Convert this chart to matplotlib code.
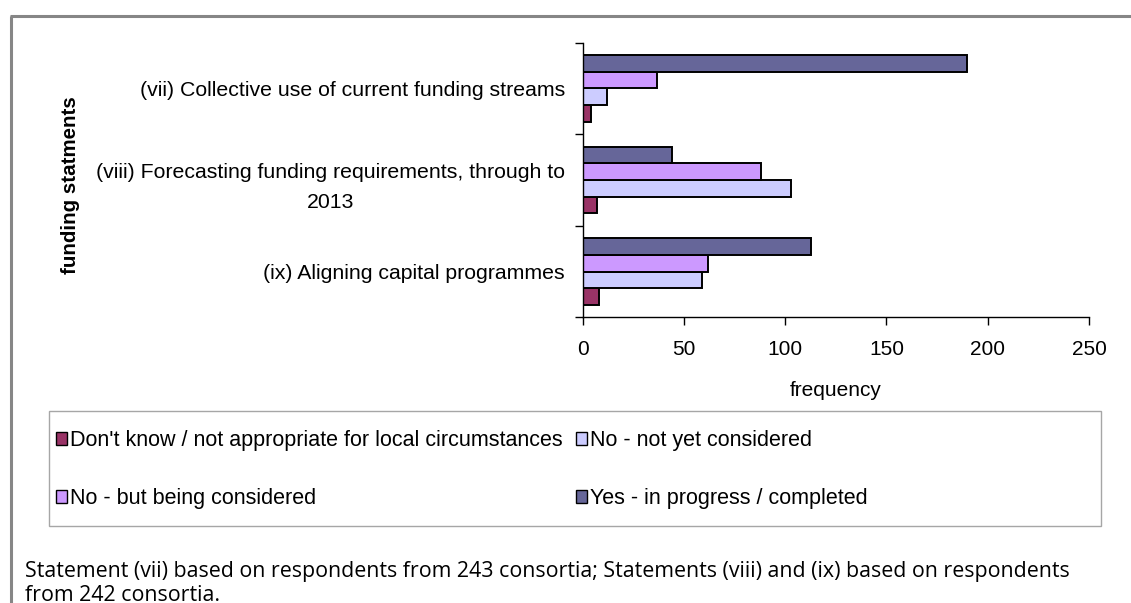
import matplotlib
matplotlib.use("Agg")
import matplotlib.pyplot as plt
from matplotlib.patches import Patch, Rectangle
from matplotlib.lines import Line2D
import numpy as np

# Survey responses per funding statement
statements = [
    "(vii) Collective use of current funding streams",
    "(viii) Forecasting funding requirements, through to\n2013",
    "(ix) Aligning capital programmes",
]
series_names = [
    "Don't know / not appropriate for local circumstances",
    "No - not yet considered",
    "No - but being considered",
    "Yes - in progress / completed",
]
dont_know = [4, 7, 8]
not_yet = [12, 103, 59]
being_considered = [37, 88, 62]
yes_progress = [190, 44, 113]

colors = ["#993366", "#CCCCFF", "#CC99FF", "#666699"]
x_ticks = [0, 50, 100, 150, 200, 250]

W, H = 1131, 603
DPI = 100
fig = plt.figure(figsize=(W / DPI, H / DPI), dpi=DPI)
fig.patch.set_facecolor("white")

FONT = "Liberation Sans"
plt.rcParams["font.family"] = FONT


def fx(x):
    return x / W


def fy(y):
    return 1 - y / H


# plot area in pixel terms
left, right, top, bottom = 582.5, 1089, 42.7, 317.3
ax = fig.add_axes([fx(left), fy(bottom), (right - left) / W, (bottom - top) / H])

values = [dont_know, not_yet, being_considered, yes_progress]
n = len(statements)
centers = np.arange(n)
bar_h = 1 / 5.5
offsets = [1.5, 0.5, -0.5, -1.5]

for vals, off, col, name in zip(values, offsets, colors, series_names):
    ax.barh(centers + off * bar_h, vals, height=bar_h, color=col,
            edgecolor="black", linewidth=1.4, label=name)

ax.set_xlim(0, 250)
ax.set_ylim(n - 0.5, -0.5)

ax.set_xticks(x_ticks)
ax.set_xticklabels([str(t) for t in x_ticks], fontsize=15)
ax.tick_params(axis="x", direction="out", length=6, width=1, pad=10)

ax.set_yticks(np.arange(-0.5, n, 1.0))
ax.set_yticklabels([])
ax.tick_params(axis="y", which="major", direction="out", length=6, width=1)
ax.set_yticks(centers, minor=True)
ax.set_yticklabels(statements, minor=True, fontsize=15.3)
for lbl in ax.get_yticklabels(minor=True):
    lbl.set_horizontalalignment("right")
    lbl.set_multialignment("center")
    lbl.set_linespacing(1.72)
ax.tick_params(axis="y", which="minor", length=0, pad=12.6)

for s in ["top", "right"]:
    ax.spines[s].set_visible(False)
for s in ["left", "bottom"]:
    ax.spines[s].set_linewidth(1)

ax.set_xlabel("frequency", fontsize=15, labelpad=16)

fig.text(fx(71), fy(185), "funding statments", rotation=90, fontsize=14.8,
         fontweight="bold", ha="center", va="center")

# legend box
fig.patches.append(Rectangle((fx(49), fy(526)), (1101 - 49) / W, (526 - 411) / H,
                             transform=fig.transFigure, facecolor="none",
                             edgecolor="#A6A6A6", linewidth=1))

handles = [Patch(facecolor=c, edgecolor="black", linewidth=1) for c in colors]
col1 = [0, 2]
col2 = [1, 3]
for idxs, xpos in [(col1, 56), (col2, 576)]:
    fig.legend([handles[i] for i in idxs], [series_names[i] for i in idxs],
               loc="upper left", bbox_to_anchor=(fx(xpos), fy(430)),
               frameon=False, fontsize=15.5, handlelength=0.52,
               handleheight=0.52, handletextpad=0.15, labelspacing=1.72,
               borderpad=0, borderaxespad=0)

# outer frame
fig.add_artist(Line2D([fx(10), 1], [fy(16), fy(16)], transform=fig.transFigure,
                      color="#868686", linewidth=2.2, solid_capstyle="butt"))
fig.add_artist(Line2D([fx(11), fx(11)], [fy(16), 0], transform=fig.transFigure,
                      color="#868686", linewidth=2.2, solid_capstyle="butt"))

# note below the chart
note1 = ("Statement (vii) based on respondents from 243 consortia; "
         "Statements (viii) and (ix) based on respondents")
note2 = "from 242 consortia."
fig.text(fx(25), fy(577), note1, fontsize=15.4, family="Open Sans", va="baseline")
fig.text(fx(25), fy(601), note2, fontsize=15.4, family="Open Sans", va="baseline")

fig.savefig("out.png", dpi=DPI, facecolor="white")
